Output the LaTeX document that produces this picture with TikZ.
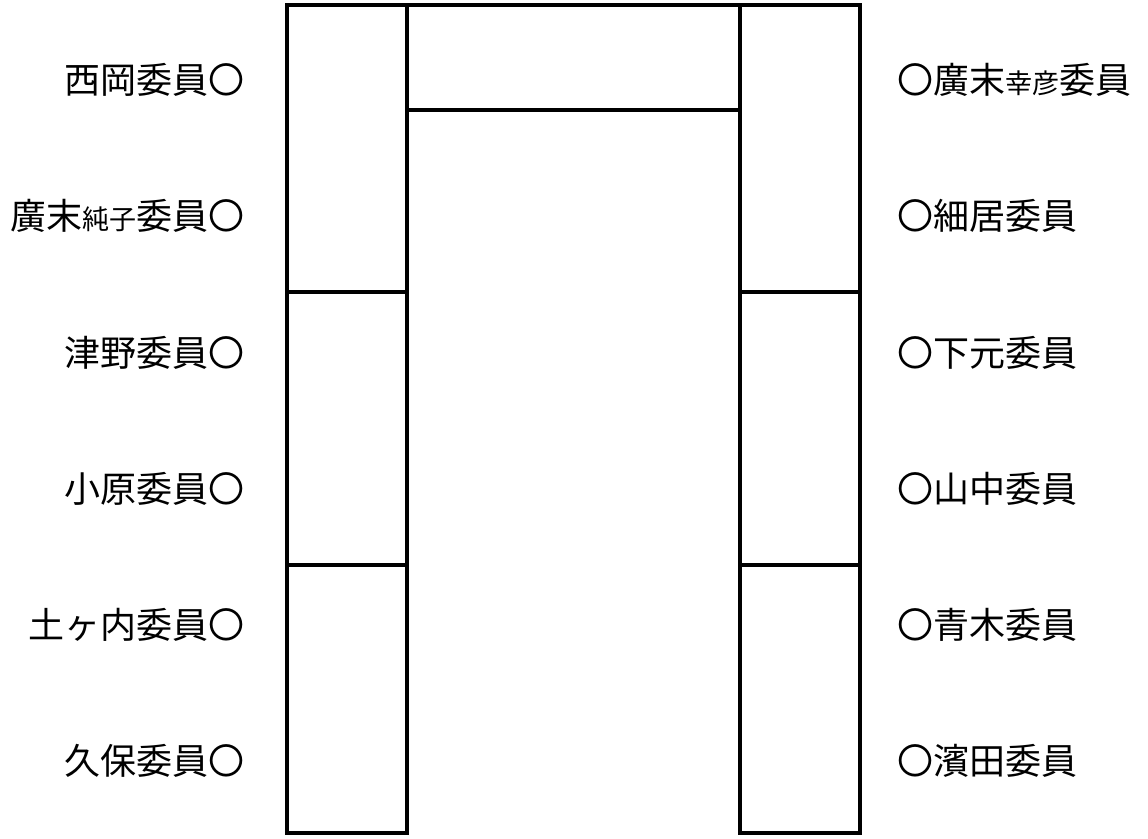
\documentclass[tikz,border=0pt]{standalone}
\usepackage{fontspec}
\setmainfont{Noto Sans CJK JP}
\usepackage{tikz}
\usetikzlibrary{positioning}
\newcommand{\sm}[1]{{\fontsize{15.4}{18}\selectfont #1}}
\tikzset{
	desk/.style    ={draw=black, line width=2pt},
	lname/.style   ={anchor=east, inner sep=0pt, font=\fontsize{20.5}{24}\selectfont},
	rname/.style   ={anchor=west, inner sep=0pt, font=\fontsize{20.5}{24}\selectfont},
}
\begin{document}
\begin{tikzpicture}[x=0.02cm, y=-0.02cm]
	\useasboundingbox (0,0) rectangle (1148,838);
	% desks
	\foreach \yt/\yb in {5/292, 292/565, 565/833} {
		\draw[desk] (287,\yt) rectangle (407,\yb);
		\draw[desk] (740,\yt) rectangle (860,\yb);
	}
	\draw[desk] (407,5) rectangle (740,110);
	% members
	\foreach \i/\lab/\rab in {
		1/{西岡委員〇}/{〇廣末\sm{幸彦}委員},
		2/{廣末\sm{純子}委員〇}/{〇細居委員},
		3/{津野委員〇}/{〇下元委員},
		4/{小原委員〇}/{〇山中委員},
		5/{土ヶ内委員〇}/{〇青木委員},
		6/{久保委員〇}/{〇濱田委員}} {
		\pgfmathsetmacro{\yy}{80+136.2*(\i-1)}
		\node[lname] (l\i) at (245,\yy) {\lab};
		\node[rname] (r\i) at (897,\yy) {\rab};
	}
\end{tikzpicture}
\end{document}
